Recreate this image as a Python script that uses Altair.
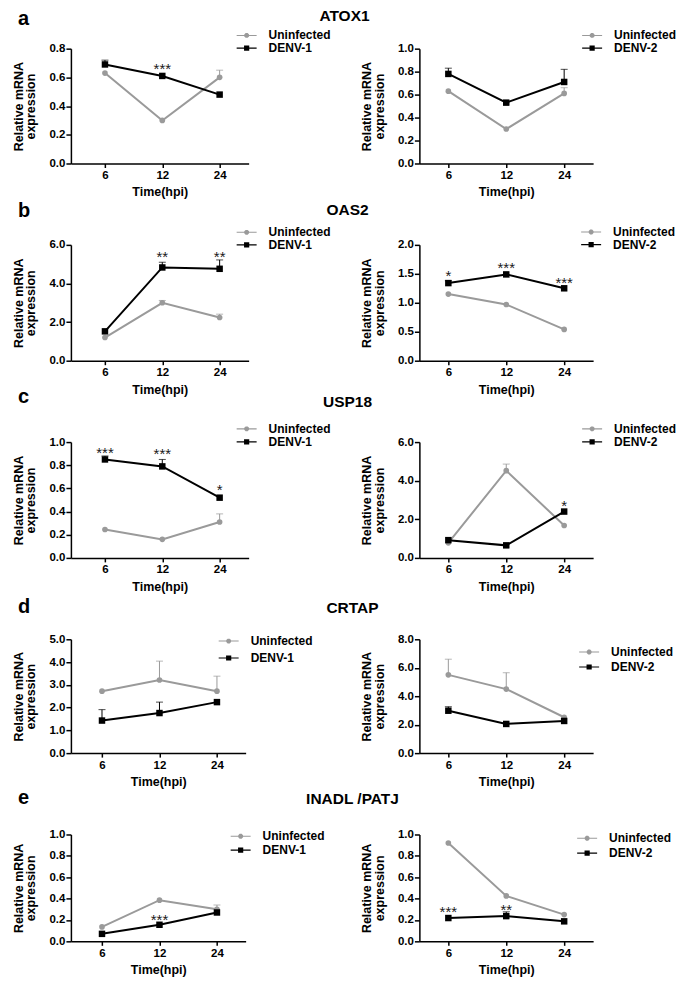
import altair as alt
import pandas as pd

TIMES = ["6", "12", "24"]
GRAY = "#9a9a9a"
BLACK = "#000000"
FONT = "Liberation Sans"

row_letters = ["a", "b", "c", "d", "e"]
row_genes = ["ATOX1", "OAS2", "USP18", "CRTAP", "INADL /PATJ"]

# ---- values (mean, upper error length) ----
a1_uninf = [0.63, 0.30, 0.60]; a1_uninf_err = [0.0, 0.0, 0.05]
a1_denv = [0.69, 0.61, 0.48];  a1_denv_err = [0.03, 0.0, 0.0]
a2_uninf = [0.63, 0.30, 0.61]; a2_uninf_err = [0.0, 0.0, 0.05]
a2_denv = [0.78, 0.53, 0.71];  a2_denv_err = [0.05, 0.0, 0.11]

b1_uninf = [1.20, 3.00, 2.24]; b1_uninf_err = [0.0, 0.12, 0.17]
b1_denv = [1.52, 4.83, 4.76];  b1_denv_err = [0.0, 0.27, 0.46]
b2_uninf = [1.15, 0.97, 0.54]; b2_uninf_err = [0.0, 0.0, 0.0]
b2_denv = [1.34, 1.49, 1.25];  b2_denv_err = [0.04, 0.0, 0.0]

c1_uninf = [0.245, 0.16, 0.31]; c1_uninf_err = [0.0, 0.0, 0.07]
c1_denv = [0.85, 0.79, 0.52];   c1_denv_err = [0.03, 0.06, 0.0]
c2_uninf = [0.78, 4.52, 1.68];  c2_uninf_err = [0.0, 0.34, 0.0]
c2_denv = [0.92, 0.65, 2.40];   c2_denv_err = [0.0, 0.0, 0.0]

d1_uninf = [2.72, 3.21, 2.72]; d1_uninf_err = [0.0, 0.83, 0.66]
d1_denv = [1.43, 1.76, 2.24];  d1_denv_err = [0.48, 0.48, 0.0]
d2_uninf = [5.50, 4.50, 2.52]; d2_uninf_err = [1.10, 1.15, 0.0]
d2_denv = [2.98, 2.05, 2.26];  d2_denv_err = [0.28, 0.0, 0.0]

e1_uninf = [0.135, 0.385, 0.30]; e1_uninf_err = [0.0, 0.0, 0.04]
e1_denv = [0.07, 0.155, 0.27];   e1_denv_err = [0.0, 0.0, 0.0]
e2_uninf = [0.92, 0.425, 0.25];  e2_uninf_err = [0.0, 0.0, 0.0]
e2_denv = [0.218, 0.236, 0.187]; e2_denv_err = [0.0, 0.04, 0.0]

# significance marks: (time, label, y-position)
a1_stars = [("12", "***", 0.68)]
a2_stars = []
b1_stars = [("12", "**", 5.57), ("24", "**", 5.57)]
b2_stars = [("6", "*", 1.52), ("12", "***", 1.66), ("24", "***", 1.40)]
c1_stars = [("6", "***", 0.94), ("12", "***", 0.93), ("24", "*", 0.62)]
c2_stars = [("24", "*", 2.85)]
d1_stars = []
d2_stars = []
e1_stars = [("12", "***", 0.23)]
e2_stars = [("6", "***", 0.31), ("12", "**", 0.325)]

ticks_08 = [0, 0.2, 0.4, 0.6, 0.8]
ticks_10 = [0, 0.2, 0.4, 0.6, 0.8, 1.0]
ticks_6 = [0, 2, 4, 6]
ticks_2 = [0, 0.5, 1.0, 1.5, 2.0]
ticks_5 = [0, 1, 2, 3, 4, 5]
ticks_8 = [0, 2, 4, 6, 8]

# legend glyphs: short line with the series marker (octagon ~ circle, square) in the middle
CIRC = ("M-2,-0.11H2V0.11H-2Z "
        "M0.48,0.2L0.2,0.48L-0.2,0.48L-0.48,0.2L-0.48,-0.2L-0.2,-0.48L0.2,-0.48L0.48,-0.2Z")
SQR = "M-2,-0.12H2V0.12H-2Z M-0.52,-0.52H0.52V0.52H-0.52Z"


def panel(uninf, uninf_err, denv, denv_err, virus, yticks, stars,
          width, height, xpad, xalign, leg_x, leg_y, leg_rowpad,
          letter=None, gene=None, letter_xy=None, gene_xy=None):
    rows = []
    for i, t in enumerate(TIMES):
        rows.append({"time": t, "series": "Uninfected", "value": uninf[i],
                     "err": uninf_err[i], "top": uninf[i] + uninf_err[i]})
    for i, t in enumerate(TIMES):
        rows.append({"time": t, "series": virus, "value": denv[i],
                     "err": denv_err[i], "top": denv[i] + denv_err[i]})
    df = pd.DataFrame(rows)
    dom = ["Uninfected", virus]
    cscale = alt.Scale(domain=dom, range=[GRAY, BLACK])

    xaxis = alt.Axis(title="Time(hpi)", labelAngle=0, tickSize=4,
                     labelPadding=2, titlePadding=5, labelOverlap=False)
    xscale = alt.Scale(type="point", domain=TIMES, padding=xpad, align=xalign)
    x = alt.X("time:O", sort=TIMES, scale=xscale, axis=xaxis)
    yaxis = alt.Axis(values=yticks, format=".1f", tickCount=len(yticks),
                     title=["Relative mRNA", "expression"],
                     titlePadding=11, labelPadding=1, titleLineHeight=12.5,
                     labelOverlap=False, labelFlush=False, labelSeparation=0)
    yscale = alt.Scale(domain=[0, max(yticks)], nice=False, zero=True)
    y = alt.Y("value:Q", scale=yscale, axis=yaxis)
    ytop = alt.Y("top:Q", scale=yscale, axis=yaxis)
    base = alt.Chart(df)
    col = alt.Color("series:N", scale=cscale, legend=None)

    leg = alt.Legend(title=None, orient="none", legendX=leg_x, legendY=leg_y,
                     symbolSize=100, symbolStrokeWidth=0, symbolOpacity=1,
                     labelFont=FONT, labelFontSize=12, labelFontWeight="bold",
                     labelColor="black", labelOffset=16, rowPadding=leg_rowpad,
                     padding=0)
    legend_layer = base.mark_point(filled=True, opacity=0, size=1).encode(
        x=x, y=y,
        color=alt.Color("series:N", scale=cscale, legend=leg),
        shape=alt.Shape("series:N", scale=alt.Scale(domain=dom, range=[CIRC, SQR]), legend=leg),
    )

    line = base.mark_line(strokeWidth=2).encode(x=x, y=y, color=col, detail="series:N")
    errdf = base.transform_filter("datum.err > 0")
    rule = errdf.mark_rule(strokeWidth=1).encode(x=x, y=y, y2="top:Q", color=col)
    cap = errdf.mark_tick(orient="horizontal", size=7, thickness=1).encode(
        x=x, y=ytop, color=col)
    circ = base.transform_filter(alt.datum.series == "Uninfected").mark_point(
        shape="circle", filled=True, size=32, opacity=1).encode(x=x, y=y, color=col)
    sq = base.transform_filter(alt.datum.series == virus).mark_point(
        shape="square", filled=True, size=42, opacity=1).encode(x=x, y=y, color=col)

    layers = [legend_layer, line, rule, cap, circ, sq]

    if stars:
        sdf = pd.DataFrame({"time": [s[0] for s in stars],
                            "label": [s[1] for s in stars],
                            "value": [s[2] for s in stars]})
        st = alt.Chart(sdf).mark_text(font=FONT, fontSize=15, color="#1a1a1a",
                                       baseline="alphabetic", dy=8.6).encode(
            x=x, y=y, text="label:N")
        layers.append(st)
    if letter:
        ldf = pd.DataFrame({"t": [letter]})
        layers.append(alt.Chart(ldf).mark_text(font=FONT, fontSize=20, fontWeight="bold",
                                               align="left", baseline="alphabetic",
                                               color="black").encode(
            text="t:N", x=alt.value(letter_xy[0]), y=alt.value(letter_xy[1])))
    if gene:
        gdf = pd.DataFrame({"t": [gene]})
        layers.append(alt.Chart(gdf).mark_text(font=FONT, fontSize=15.5, fontWeight="bold",
                                               align="center", baseline="alphabetic",
                                               color="black").encode(
            text="t:N", x=alt.value(gene_xy[0]), y=alt.value(gene_xy[1])))

    return alt.layer(*layers).properties(width=width, height=height)


panels = [
    panel(a1_uninf, a1_uninf_err, a1_denv, a1_denv_err, "DENV-1", ticks_08, a1_stars,
          178, 115, 0.55, 0.54, 170, -19.25, 0.8, "a", row_genes[0], (-53, -24), (274, -28)),
    panel(a2_uninf, a2_uninf_err, a2_denv, a2_denv_err, "DENV-2", ticks_10, a2_stars,
          174, 115, 0.5, 0.5, 167, -19.25, 0.8),
    panel(b1_uninf, b1_uninf_err, b1_denv, b1_denv_err, "DENV-1", ticks_6, b1_stars,
          178, 116, 0.55, 0.54, 170, -18.6, 0.6, "b", row_genes[1], (-53, -28), (277, -30)),
    panel(b2_uninf, b2_uninf_err, b2_denv, b2_denv_err, "DENV-2", ticks_2, b2_stars,
          174, 116, 0.5, 0.5, 166, -18.9, 0.6),
    panel(c1_uninf, c1_uninf_err, c1_denv, c1_denv_err, "DENV-1", ticks_10, c1_stars,
          178, 116, 0.55, 0.54, 170, -19.25, 1.0, "c", row_genes[2], (-53, -39), (277, -35)),
    panel(c2_uninf, c2_uninf_err, c2_denv, c2_denv_err, "DENV-2", ticks_6, c2_stars,
          174, 116, 0.5, 0.5, 167, -19.25, 1.0),
    panel(d1_uninf, d1_uninf_err, d1_denv, d1_denv_err, "DENV-1", ticks_5, d1_stars,
          175, 114, 0.52, 0.52, 152, -4.25, 5.0, "d", row_genes[3], (-53, -26), (282, -26)),
    panel(d2_uninf, d2_uninf_err, d2_denv, d2_denv_err, "DENV-2", ticks_8, d2_stars,
          174, 114, 0.5, 0.5, 164, 6.75, 3.0),
    panel(e1_uninf, e1_uninf_err, e1_denv, e1_denv_err, "DENV-1", ticks_10, e1_stars,
          175, 107, 0.52, 0.52, 164, -4.25, 2.0, "e", row_genes[4], (-53, -31), (282, -31)),
    panel(e2_uninf, e2_uninf_err, e2_denv, e2_denv_err, "DENV-2", ticks_10, e2_stars,
          174, 107, 0.5, 0.5, 162, -2.25, 3.0),
]

chart = alt.concat(*panels, columns=2, spacing={"row": 81.5, "column": 171},
                   bounds="flush", align="each").resolve_scale(
    x="independent", y="independent", color="independent", shape="independent"
).resolve_legend(color="independent", shape="independent").properties(
    padding={"left": 4, "top": 0, "right": 0, "bottom": 0}
).configure_view(stroke=None).configure_axis(
    labelFont=FONT, labelFontWeight="bold", labelFontSize=11.5, labelColor="black",
    titleFont=FONT, titleFontWeight="bold", titleFontSize=12.5, titleColor="black",
    domainColor="black", domainWidth=1.5, tickColor="black", tickWidth=1.5,
    tickSize=5, grid=False, labelOverlap=False
)

chart.save("out.html", embed_options={"renderer": "svg", "actions": False})
